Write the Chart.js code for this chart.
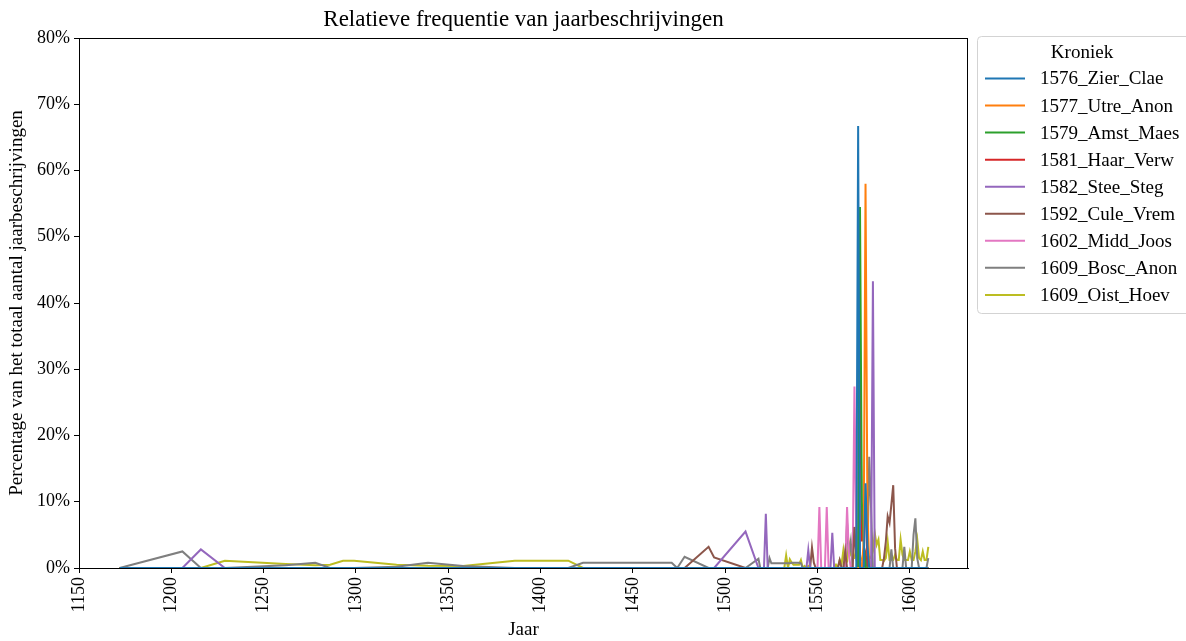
<!DOCTYPE html>
<html>
<head>
<meta charset="utf-8">
<title>Relatieve frequentie van jaarbeschrijvingen</title>
<script src="https://cdn.jsdelivr.net/npm/chart.js@4.4.1/dist/chart.umd.min.js"></script>
<style>
  html, body { margin: 0; padding: 0; background: #fff; }
  #freqChart { display: block; }
</style>
</head>
<body>
<canvas id="freqChart" width="1186" height="641"></canvas>
<script>
// jaren die in minstens één kroniek voorkomen
const jaren = [
  1172, 1206, 1216, 1229, 1262, 1278, 1286, 1293, 1299, 1322, 1339, 1358, 1386, 1415, 1423,
  1471, 1474, 1478, 1491, 1494, 1511, 1518, 1519, 1520, 1521, 1522, 1523, 1524, 1525, 1526,
  1527, 1528, 1529, 1530, 1531, 1532, 1533, 1534, 1535, 1536, 1537, 1538, 1539, 1540, 1541,
  1542, 1543, 1544, 1545, 1546, 1547, 1548, 1549, 1550, 1551, 1552, 1553, 1554, 1555, 1556,
  1557, 1558, 1559, 1560, 1561, 1562, 1563, 1564, 1565, 1566, 1567, 1568, 1569, 1570, 1571,
  1572, 1573, 1574, 1575, 1576, 1577, 1578, 1579, 1580, 1581, 1582, 1583, 1584, 1585, 1586,
  1587, 1588, 1589, 1590, 1591, 1592, 1593, 1594, 1595, 1596, 1597, 1598, 1599, 1600, 1601,
  1602, 1603, 1604, 1605, 1606, 1607, 1608, 1609, 1610
];

// per kroniek: [jaar, percentage] (alle andere jaren zijn 0)
const zierClae = [[1572, 66.7], [1576, 12.8], [1577, 3.5]];
const utreAnon = [[1575, 4], [1576, 58.0], [1577, 10]];
const amstMaes = [[1573, 54.5], [1574, 10], [1575, 3.8]];
const haarVerw = [[1573, 32.2], [1574, 4], [1575, 6.8], [1576, 10.2], [1577, 1.5]];
const steeSteg = [[1216, 2.8], [1511, 5.5], [1522, 8.2], [1545, 2.7], [1558, 5.3], [1580, 43.3]];
const culeVrem = [
  [1491, 3.2], [1494, 1.6], [1547, 3.1], [1548, 0.8], [1562, 1.2], [1565, 2.5], [1570, 6.2],
  [1571, 1.5], [1576, 2], [1586, 1.5], [1587, 4], [1588, 7.8], [1589, 6.8], [1590, 9.6],
  [1591, 12.5], [1592, 3]
];
const middJoos = [
  [1551, 9.2], [1555, 9.2], [1566, 9.2], [1567, 2], [1570, 27.4], [1571, 4], [1572, 36.4], [1573, 1.5]
];
const boscAnon = [
  [1206, 2.5], [1262, 0.4], [1278, 0.8], [1322, 0.2], [1339, 0.8], [1358, 0.3], [1423, 0.8],
  [1471, 0.8], [1478, 1.7], [1518, 1.4], [1524, 1.5], [1525, 0.7], [1526, 0.7], [1527, 0.7],
  [1528, 0.7], [1529, 0.7], [1530, 0.7], [1531, 0.7], [1532, 0.7], [1533, 0.7], [1534, 0.7],
  [1535, 0.7], [1536, 0.8], [1537, 0.8], [1538, 0.8], [1539, 0.8], [1540, 0.8], [1541, 0.7],
  [1566, 6.8], [1567, 2], [1568, 4], [1578, 16.8], [1579, 9], [1590, 2.8], [1597, 3.2],
  [1602, 5], [1603, 7.5], [1604, 1.5], [1610, 1.5]
];
const oistHoev = [
  [1229, 1.1], [1262, 0.6], [1278, 0.4], [1286, 0.5], [1293, 1.1], [1299, 1.1], [1322, 0.5],
  [1339, 0.35], [1358, 0.3], [1386, 1.1], [1415, 1.1], [1533, 1.9], [1535, 1.3], [1536, 0.8],
  [1537, 0.5], [1538, 0.5], [1539, 0.5], [1540, 0.5], [1541, 1.2], [1543, 0.3], [1545, 0.3],
  [1560, 0.5], [1562, 1.2], [1563, 0.5], [1564, 2.7], [1565, 0.5], [1566, 1.0], [1567, 3.8],
  [1568, 2], [1569, 1.5], [1570, 1.5], [1571, 2.9], [1572, 1], [1573, 1.5], [1574, 1.2],
  [1575, 2.5], [1576, 1.5], [1577, 1.7], [1578, 1.7], [1579, 1.5], [1580, 2.5], [1581, 5.3],
  [1582, 3.5], [1583, 4.3], [1584, 1.2], [1585, 1.2], [1586, 1.1], [1587, 1.5], [1588, 4.0],
  [1589, 1.2], [1590, 1.2], [1591, 1.2], [1592, 2], [1593, 1.2], [1594, 1.2], [1595, 4.3],
  [1596, 2], [1597, 1.2], [1598, 1.2], [1599, 1.2], [1600, 2.5], [1601, 1.2], [1602, 1.2],
  [1603, 2.5], [1604, 4.3], [1605, 1.5], [1606, 1.2], [1607, 2.5], [1608, 1.2], [1609, 1.2],
  [1610, 3.2]
];

const kronieken = ['1576_Zier_Clae', '1577_Utre_Anon', '1579_Amst_Maes', '1581_Haar_Verw',
  '1582_Stee_Steg', '1592_Cule_Vrem', '1602_Midd_Joos', '1609_Bosc_Anon', '1609_Oist_Hoev'];
const reeksen = [zierClae, utreAnon, amstMaes, haarVerw, steeSteg, culeVrem, middJoos, boscAnon, oistHoev];
const kleuren = ['#1f77b4', '#ff7f0e', '#2ca02c', '#d62728', '#9467bd',
  '#8c564b', '#e377c2', '#7f7f7f', '#bcbd22'];

const yTicks = [0, 10, 20, 30, 40, 50, 60, 70, 80];

const FONT = "'Liberation Serif', 'Times New Roman', serif";

// zet de losse waarden om naar punten op alle jaren
function maakPunten(reeks) {
  const waarden = new Map(reeks);
  return jaren.map(j => ({ x: j, y: waarden.has(j) ? waarden.get(j) : 0 }));
}

// titel, kader en legenda zoals in het origineel
const extraTekenen = {
  id: 'extraTekenen',
  afterDatasetsDraw(chart) {
    const { ctx, chartArea } = chart;
    ctx.save();
    ctx.strokeStyle = '#000';
    ctx.lineWidth = 1;
    ctx.strokeRect(Math.round(chartArea.left) + 0.5, Math.round(chartArea.top) + 0.5,
      Math.round(chartArea.right - chartArea.left) - 1, Math.round(chartArea.bottom - chartArea.top));
    ctx.restore();
  },
  afterDraw(chart) {
    const { ctx, chartArea } = chart;
    ctx.save();
    // titel
    ctx.fillStyle = '#000';
    ctx.font = '23px ' + FONT;
    ctx.textAlign = 'center';
    ctx.textBaseline = 'middle';
    ctx.fillText('Relatieve frequentie van jaarbeschrijvingen', (chartArea.left + chartArea.right) / 2, 20);

    // legenda
    const lx = 977.5, ly = 36.5, lw = 215, lh = 277, r = 4;
    ctx.beginPath();
    ctx.moveTo(lx + r, ly);
    ctx.lineTo(lx + lw - r, ly);
    ctx.arcTo(lx + lw, ly, lx + lw, ly + r, r);
    ctx.lineTo(lx + lw, ly + lh - r);
    ctx.arcTo(lx + lw, ly + lh, lx + lw - r, ly + lh, r);
    ctx.lineTo(lx + r, ly + lh);
    ctx.arcTo(lx, ly + lh, lx, ly + lh - r, r);
    ctx.lineTo(lx, ly + r);
    ctx.arcTo(lx, ly, lx + r, ly, r);
    ctx.closePath();
    ctx.fillStyle = 'rgba(255,255,255,0.8)';
    ctx.fill();
    ctx.strokeStyle = '#d3d3d3';
    ctx.lineWidth = 1;
    ctx.stroke();

    ctx.fillStyle = '#000';
    ctx.font = '19px ' + FONT;
    ctx.textAlign = 'center';
    ctx.fillText('Kroniek', 1082, 53);

    ctx.textAlign = 'left';
    chart.data.datasets.forEach((ds, i) => {
      const y = 78.5 + i * 27.05;
      ctx.strokeStyle = ds.borderColor;
      ctx.lineWidth = 2;
      ctx.beginPath();
      ctx.moveTo(985, y);
      ctx.lineTo(1025, y);
      ctx.stroke();
      ctx.fillStyle = '#000';
      ctx.fillText(ds.label, 1040, y + 1);
    });
    ctx.restore();
  }
};

const ctx = document.getElementById('freqChart');

new Chart(ctx.getContext('2d'), {
  type: 'line',
  data: {
    datasets: reeksen.map((reeks, i) => ({
      label: kronieken[i],
      data: maakPunten(reeks),
      borderColor: kleuren[i],
      backgroundColor: kleuren[i],
      borderWidth: 2,
      pointRadius: 0,
      tension: 0,
      fill: false
    }))
  },
  options: {
    responsive: false,
    animation: false,
    devicePixelRatio: 1,
    layout: { padding: { top: 38, right: 218, left: 0, bottom: 0 } },
    plugins: {
      legend: { display: false },
      title: { display: false },
      tooltip: { enabled: false }
    },
    scales: {
      x: {
        type: 'linear',
        min: 1150,
        max: 1631.5,
        grid: { display: true, drawOnChartArea: false, drawTicks: true, tickLength: 5, color: '#000' },
        border: { display: true, color: '#000', width: 1 },
        ticks: {
          stepSize: 50,
          includeBounds: false,
          autoSkip: false,
          minRotation: 90,
          maxRotation: 90,
          padding: 4,
          color: '#000',
          font: { family: FONT, size: 18 },
          callback: v => String(v)
        },
        title: {
          display: true,
          text: 'Jaar',
          color: '#000',
          font: { family: FONT, size: 19 },
          padding: { top: 0, bottom: 0 }
        },
        afterFit: scale => { scale.height = 73; }
      },
      y: {
        min: 0,
        max: 80,
        grid: { display: true, drawOnChartArea: false, drawTicks: true, tickLength: 5, color: '#000' },
        border: { display: true, color: '#000', width: 1 },
        afterBuildTicks: scale => { scale.ticks = yTicks.map(v => ({ value: v })); },
        ticks: {
          padding: 4,
          color: '#000',
          font: { family: FONT, size: 18 },
          callback: v => v + '%'
        },
        title: {
          display: true,
          text: 'Percentage van het totaal aantal jaarbeschrijvingen',
          color: '#000',
          font: { family: FONT, size: 19 },
          padding: { top: 6, bottom: 0 }
        },
        afterFit: scale => { scale.width = 79; }
      }
    }
  },
  plugins: [extraTekenen]
});
</script>
</body>
</html>
